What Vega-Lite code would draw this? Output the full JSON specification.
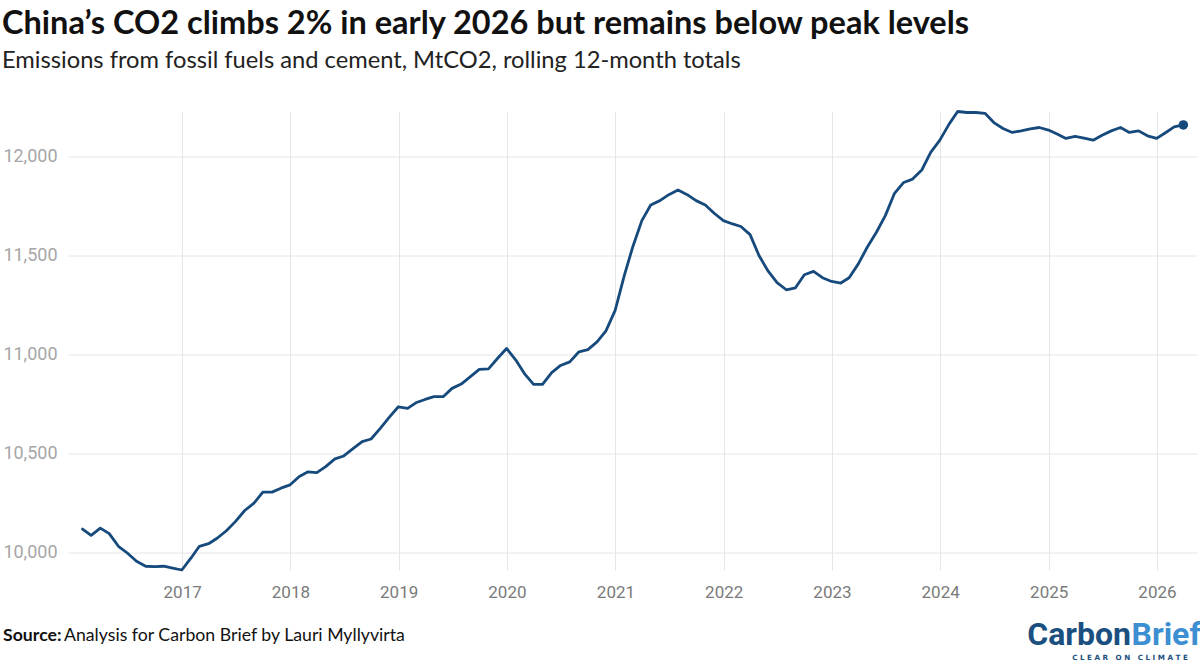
{
  "$schema": "https://vega.github.io/schema/vega-lite/v6.json",
  "width": 1129,
  "height": 458.5,
  "autosize": {"type": "none"},
  "padding": {"left": 68, "top": 111.5, "right": 3, "bottom": 96},
  "background": "white",
  "title": {
    "text": "China’s CO2 climbs 2% in early 2026 but remains below peak levels",
    "subtitle": "Emissions from fossil fuels and cement, MtCO2, rolling 12-month totals",
    "anchor": "start",
    "frame": "group",
    "dx": -66,
    "offset": 37,
    "font": "Lato",
    "fontSize": 32.5,
    "fontWeight": "bold",
    "color": "#111111",
    "subtitleFont": "Lato",
    "subtitleFontSize": 23.7,
    "subtitleColor": "#222222",
    "subtitlePadding": 9
  },
  "config": {"view": {"stroke": null}},
  "datasets": {
    "emissions": [
      {"date": "2016-01-31", "value": 10116},
      {"date": "2016-02-29", "value": 10084},
      {"date": "2016-03-31", "value": 10121},
      {"date": "2016-04-30", "value": 10093},
      {"date": "2016-05-31", "value": 10029},
      {"date": "2016-06-30", "value": 9995},
      {"date": "2016-07-31", "value": 9953},
      {"date": "2016-08-31", "value": 9928},
      {"date": "2016-09-30", "value": 9926},
      {"date": "2016-10-31", "value": 9928},
      {"date": "2016-11-30", "value": 9919},
      {"date": "2016-12-31", "value": 9909},
      {"date": "2017-01-31", "value": 9970},
      {"date": "2017-02-28", "value": 10029},
      {"date": "2017-03-31", "value": 10042},
      {"date": "2017-04-30", "value": 10071},
      {"date": "2017-05-31", "value": 10109},
      {"date": "2017-06-30", "value": 10155},
      {"date": "2017-07-31", "value": 10210},
      {"date": "2017-08-31", "value": 10247},
      {"date": "2017-09-30", "value": 10303},
      {"date": "2017-10-31", "value": 10303},
      {"date": "2017-11-30", "value": 10323},
      {"date": "2017-12-31", "value": 10340},
      {"date": "2018-01-31", "value": 10382},
      {"date": "2018-02-28", "value": 10405},
      {"date": "2018-03-31", "value": 10402},
      {"date": "2018-04-30", "value": 10432},
      {"date": "2018-05-31", "value": 10471},
      {"date": "2018-06-30", "value": 10486},
      {"date": "2018-07-31", "value": 10523},
      {"date": "2018-08-31", "value": 10559},
      {"date": "2018-09-30", "value": 10572},
      {"date": "2018-10-31", "value": 10626},
      {"date": "2018-11-30", "value": 10681},
      {"date": "2018-12-31", "value": 10735},
      {"date": "2019-01-31", "value": 10727},
      {"date": "2019-02-28", "value": 10755},
      {"date": "2019-03-31", "value": 10772},
      {"date": "2019-04-30", "value": 10786},
      {"date": "2019-05-31", "value": 10786},
      {"date": "2019-06-30", "value": 10828},
      {"date": "2019-07-31", "value": 10850},
      {"date": "2019-08-31", "value": 10887},
      {"date": "2019-09-30", "value": 10924},
      {"date": "2019-10-31", "value": 10927},
      {"date": "2019-11-30", "value": 10979},
      {"date": "2019-12-31", "value": 11030},
      {"date": "2020-01-31", "value": 10971},
      {"date": "2020-02-29", "value": 10903},
      {"date": "2020-03-31", "value": 10848},
      {"date": "2020-04-30", "value": 10848},
      {"date": "2020-05-31", "value": 10908},
      {"date": "2020-06-30", "value": 10944},
      {"date": "2020-07-31", "value": 10962},
      {"date": "2020-08-31", "value": 11013},
      {"date": "2020-09-30", "value": 11024},
      {"date": "2020-10-31", "value": 11063},
      {"date": "2020-11-30", "value": 11119},
      {"date": "2020-12-31", "value": 11223},
      {"date": "2021-01-31", "value": 11400},
      {"date": "2021-02-28", "value": 11542},
      {"date": "2021-03-31", "value": 11677},
      {"date": "2021-04-30", "value": 11756},
      {"date": "2021-05-31", "value": 11778},
      {"date": "2021-06-30", "value": 11808},
      {"date": "2021-07-31", "value": 11832},
      {"date": "2021-08-31", "value": 11808},
      {"date": "2021-09-30", "value": 11778},
      {"date": "2021-10-31", "value": 11756},
      {"date": "2021-11-30", "value": 11714},
      {"date": "2021-12-31", "value": 11677},
      {"date": "2022-01-31", "value": 11660},
      {"date": "2022-02-28", "value": 11647},
      {"date": "2022-03-31", "value": 11606},
      {"date": "2022-04-30", "value": 11500},
      {"date": "2022-05-31", "value": 11421},
      {"date": "2022-06-30", "value": 11363},
      {"date": "2022-07-31", "value": 11327},
      {"date": "2022-08-31", "value": 11337},
      {"date": "2022-09-30", "value": 11403},
      {"date": "2022-10-31", "value": 11420},
      {"date": "2022-11-30", "value": 11388},
      {"date": "2022-12-31", "value": 11369},
      {"date": "2023-01-31", "value": 11361},
      {"date": "2023-02-28", "value": 11388},
      {"date": "2023-03-31", "value": 11458},
      {"date": "2023-04-30", "value": 11542},
      {"date": "2023-05-31", "value": 11618},
      {"date": "2023-06-30", "value": 11702},
      {"date": "2023-07-31", "value": 11815},
      {"date": "2023-08-31", "value": 11870},
      {"date": "2023-09-30", "value": 11887},
      {"date": "2023-10-31", "value": 11933},
      {"date": "2023-11-30", "value": 12022},
      {"date": "2023-12-31", "value": 12084},
      {"date": "2024-01-31", "value": 12165},
      {"date": "2024-02-29", "value": 12229},
      {"date": "2024-03-31", "value": 12224},
      {"date": "2024-04-30", "value": 12224},
      {"date": "2024-05-31", "value": 12220},
      {"date": "2024-06-30", "value": 12173},
      {"date": "2024-07-31", "value": 12143},
      {"date": "2024-08-31", "value": 12123},
      {"date": "2024-09-30", "value": 12131},
      {"date": "2024-10-31", "value": 12141},
      {"date": "2024-11-30", "value": 12148},
      {"date": "2024-12-31", "value": 12135},
      {"date": "2025-01-31", "value": 12114},
      {"date": "2025-02-28", "value": 12093},
      {"date": "2025-03-31", "value": 12103},
      {"date": "2025-04-30", "value": 12094},
      {"date": "2025-05-31", "value": 12084},
      {"date": "2025-06-30", "value": 12109},
      {"date": "2025-07-31", "value": 12131},
      {"date": "2025-08-31", "value": 12148},
      {"date": "2025-09-30", "value": 12123},
      {"date": "2025-10-31", "value": 12131},
      {"date": "2025-11-30", "value": 12106},
      {"date": "2025-12-31", "value": 12093},
      {"date": "2026-01-31", "value": 12123},
      {"date": "2026-02-28", "value": 12151},
      {"date": "2026-03-31", "value": 12161}
    ],
    "latest": [
      {"date": "2026-03-31", "value": 12161}
    ]
  },
  "layer": [
    {
      "data": {"name": "emissions"},
      "mark": {"type": "line", "color": "#174a7c", "strokeWidth": 2.8, "strokeJoin": "round", "strokeCap": "round"},
      "encoding": {
        "x": {
          "field": "date",
          "type": "temporal",
          "scale": {
            "type": "utc",
            "domain": [
              {"year": 2015, "month": 12, "date": 13, "utc": true},
              {"year": 2026, "month": 5, "date": 16, "utc": true}
            ]
          },
          "axis": {
            "values": [
              {"year": 2017, "month": 1, "date": 1, "utc": true},
              {"year": 2018, "month": 1, "date": 1, "utc": true},
              {"year": 2019, "month": 1, "date": 1, "utc": true},
              {"year": 2020, "month": 1, "date": 1, "utc": true},
              {"year": 2021, "month": 1, "date": 1, "utc": true},
              {"year": 2022, "month": 1, "date": 1, "utc": true},
              {"year": 2023, "month": 1, "date": 1, "utc": true},
              {"year": 2024, "month": 1, "date": 1, "utc": true},
              {"year": 2025, "month": 1, "date": 1, "utc": true},
              {"year": 2026, "month": 1, "date": 1, "utc": true}
            ],
            "format": "%Y",
            "title": null,
            "ticks": false,
            "domain": false,
            "grid": true,
            "gridColor": "#e6e6e6",
            "gridWidth": 1,
            "labelFont": "Roboto",
            "labelFontSize": 17,
            "labelColor": "#7a7a7a",
            "labelPadding": 14,
            "labelFlush": false
          }
        },
        "y": {
          "field": "value",
          "type": "quantitative",
          "scale": {"domain": [9909, 12229], "nice": false, "zero": false},
          "axis": {
            "values": [10000, 10500, 11000, 11500, 12000],
            "format": ",.0f",
            "title": null,
            "ticks": false,
            "domain": false,
            "grid": true,
            "gridColor": "#e6e6e6",
            "gridWidth": 1,
            "labelFont": "Roboto",
            "labelFontSize": 18,
            "labelColor": "#a6a6a6",
            "labelPadding": 11
          }
        }
      }
    },
    {
      "data": {"name": "latest"},
      "mark": {"type": "circle", "color": "#174a7c", "opacity": 1, "size": 90},
      "encoding": {
        "x": {"field": "date", "type": "temporal"},
        "y": {"field": "value", "type": "quantitative"}
      }
    },
    {
      "data": {"values": [{"t": "Source:"}]},
      "mark": {"type": "text", "x": -65, "y": 529.5, "align": "left", "baseline": "alphabetic", "font": "Lato", "fontSize": 17.7, "fontWeight": "bold", "color": "#111111"},
      "encoding": {"text": {"field": "t"}}
    },
    {
      "data": {"values": [{"t": "Analysis for Carbon Brief by Lauri Myllyvirta"}]},
      "mark": {"type": "text", "x": -4, "y": 529.5, "align": "left", "baseline": "alphabetic", "font": "Lato", "fontSize": 17.7, "color": "#111111"},
      "encoding": {"text": {"field": "t"}}
    },
    {
      "data": {"values": [{"t": "Carbon"}]},
      "mark": {"type": "text", "x": 1063, "y": 533.5, "align": "right", "baseline": "alphabetic", "font": "Roboto", "fontSize": 32, "fontWeight": "bold", "color": "#1a4f80"},
      "encoding": {"text": {"field": "t"}}
    },
    {
      "data": {"values": [{"t": "Brief"}]},
      "mark": {"type": "text", "x": 1063.5, "y": 533.5, "align": "left", "baseline": "alphabetic", "font": "Roboto", "fontSize": 32, "fontWeight": "bold", "color": "#3d8fd1"},
      "encoding": {"text": {"field": "t"}}
    },
    {
      "data": {"values": [{"t": "C L E A R\u00a0\u00a0\u00a0O N\u00a0\u00a0\u00a0C L I M A T E"}]},
      "mark": {"type": "text", "x": 1062, "y": 548.5, "align": "center", "baseline": "alphabetic", "font": "DejaVu Sans", "fontSize": 7.2, "fontWeight": "bold", "color": "#1a4f80"},
      "encoding": {"text": {"field": "t"}}
    }
  ]
}
